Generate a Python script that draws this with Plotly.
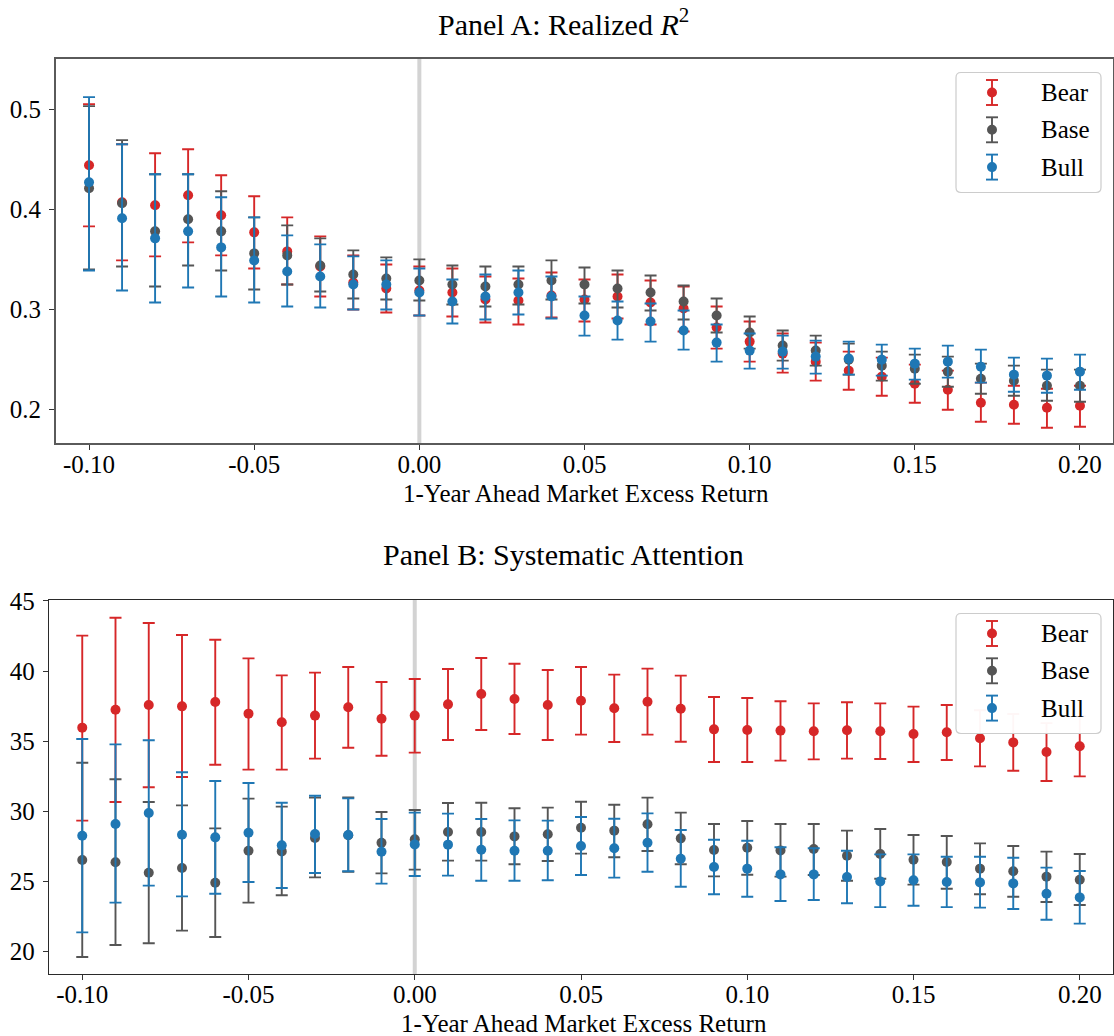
import plotly.graph_objects as go

# ---------------------------------------------------------------------------
# Data: 1-year ahead market excess return scenarios (x) and point estimates
# with lower / upper confidence bounds for the Bear, Base and Bull scenarios.
# ---------------------------------------------------------------------------
x_ret = [-0.10, -0.09, -0.08, -0.07, -0.06, -0.05, -0.04, -0.03, -0.02, -0.01,
         0.00, 0.01, 0.02, 0.03, 0.04, 0.05, 0.06, 0.07, 0.08, 0.09,
         0.10, 0.11, 0.12, 0.13, 0.14, 0.15, 0.16, 0.17, 0.18, 0.19, 0.20]

x_tickvals = [-0.10, -0.05, 0.00, 0.05, 0.10, 0.15, 0.20]
x_ticktext = ["-0.10", "-0.05", "0.00", "0.05", "0.10", "0.15", "0.20"]

# Panel A: realized R^2
r2_bear = [0.444, 0.407, 0.404, 0.414, 0.394, 0.377, 0.358, 0.343, 0.327, 0.321,
           0.319, 0.317, 0.310, 0.309, 0.314, 0.310, 0.313, 0.307, 0.301, 0.282,
           0.268, 0.256, 0.248, 0.239, 0.233, 0.226, 0.220, 0.207, 0.205, 0.202, 0.204]
r2_bear_lo = [0.383, 0.349, 0.353, 0.367, 0.354, 0.341, 0.325, 0.313, 0.300, 0.297,
              0.294, 0.293, 0.287, 0.285, 0.292, 0.288, 0.291, 0.285, 0.278, 0.261,
              0.248, 0.237, 0.229, 0.220, 0.214, 0.207, 0.200, 0.188, 0.186, 0.182, 0.183]
r2_bear_hi = [0.505, 0.465, 0.456, 0.460, 0.434, 0.413, 0.392, 0.373, 0.354, 0.345,
              0.343, 0.341, 0.333, 0.331, 0.337, 0.330, 0.335, 0.329, 0.323, 0.303,
              0.288, 0.276, 0.267, 0.258, 0.252, 0.245, 0.239, 0.227, 0.224, 0.221, 0.224]

r2_base = [0.421, 0.406, 0.378, 0.390, 0.378, 0.356, 0.354, 0.344, 0.335, 0.331,
           0.329, 0.325, 0.323, 0.325, 0.329, 0.325, 0.321, 0.317, 0.308, 0.294,
           0.277, 0.264, 0.259, 0.250, 0.244, 0.241, 0.238, 0.231, 0.229, 0.224, 0.224]
r2_base_lo = [0.340, 0.343, 0.323, 0.344, 0.339, 0.320, 0.325, 0.318, 0.311, 0.310,
              0.309, 0.305, 0.303, 0.305, 0.310, 0.306, 0.302, 0.299, 0.290, 0.277,
              0.261, 0.249, 0.244, 0.235, 0.229, 0.226, 0.223, 0.216, 0.214, 0.209, 0.208]
r2_base_hi = [0.503, 0.469, 0.435, 0.435, 0.418, 0.392, 0.384, 0.371, 0.359, 0.352,
              0.350, 0.344, 0.343, 0.343, 0.349, 0.342, 0.339, 0.334, 0.324, 0.311,
              0.293, 0.279, 0.274, 0.266, 0.258, 0.255, 0.253, 0.246, 0.244, 0.240, 0.240]

r2_bull = [0.427, 0.391, 0.371, 0.378, 0.362, 0.349, 0.338, 0.333, 0.325, 0.325,
           0.317, 0.308, 0.313, 0.317, 0.313, 0.294, 0.289, 0.288, 0.279, 0.267,
           0.259, 0.258, 0.253, 0.251, 0.250, 0.246, 0.248, 0.243, 0.235, 0.234, 0.238]
r2_bull_lo = [0.339, 0.319, 0.307, 0.322, 0.313, 0.307, 0.303, 0.302, 0.300, 0.300,
              0.294, 0.286, 0.290, 0.295, 0.291, 0.274, 0.270, 0.268, 0.260, 0.248,
              0.241, 0.241, 0.236, 0.235, 0.234, 0.230, 0.232, 0.227, 0.218, 0.217, 0.220]
r2_bull_hi = [0.512, 0.465, 0.435, 0.435, 0.412, 0.392, 0.374, 0.365, 0.353, 0.349,
              0.341, 0.330, 0.335, 0.339, 0.333, 0.313, 0.308, 0.306, 0.299, 0.285,
              0.276, 0.274, 0.269, 0.268, 0.265, 0.261, 0.264, 0.260, 0.252, 0.251, 0.255]

# Panel B: systematic attention
att_bear = [35.97, 37.25, 37.59, 37.49, 37.80, 36.97, 36.35, 36.83, 37.42, 36.61,
            36.83, 37.63, 38.37, 38.01, 37.59, 37.89, 37.35, 37.82, 37.32, 35.85,
            35.80, 35.76, 35.71, 35.78, 35.71, 35.52, 35.64, 35.21, 34.92, 34.23, 34.64]
att_bear_lo = [29.34, 30.67, 31.72, 32.45, 33.33, 32.98, 32.98, 33.76, 34.54, 33.97,
               34.19, 35.09, 35.80, 35.52, 35.09, 35.47, 34.95, 35.47, 34.97, 33.52,
               33.52, 33.62, 33.71, 33.76, 33.74, 33.52, 33.66, 33.21, 32.90, 32.17, 32.50]
att_bear_hi = [42.53, 43.81, 43.43, 42.58, 42.24, 40.91, 39.70, 39.89, 40.29, 39.23,
               39.44, 40.15, 40.94, 40.53, 40.08, 40.29, 39.75, 40.18, 39.68, 38.16,
               38.08, 37.85, 37.70, 37.78, 37.70, 37.47, 37.59, 37.21, 36.94, 36.29, 36.78]

att_base = [26.54, 26.37, 25.63, 25.96, 24.92, 27.20, 27.15, 28.10, 28.30, 27.77,
            28.01, 28.53, 28.53, 28.22, 28.37, 28.84, 28.63, 29.08, 28.08, 27.25,
            27.41, 27.22, 27.32, 26.84, 26.96, 26.56, 26.39, 25.92, 25.73, 25.35, 25.13]
att_base_lo = [19.62, 20.48, 20.60, 21.50, 21.05, 23.50, 24.02, 25.30, 25.70, 25.58,
               25.85, 26.49, 26.49, 26.23, 26.46, 26.99, 26.73, 27.18, 26.23, 25.37,
               25.49, 25.35, 25.47, 25.06, 25.20, 24.78, 24.49, 24.09, 23.92, 23.54, 23.33]
att_base_hi = [33.47, 32.29, 30.67, 30.43, 28.79, 30.91, 30.34, 30.98, 31.00, 29.96,
               30.10, 30.60, 30.62, 30.22, 30.27, 30.69, 30.48, 30.98, 29.91, 29.10,
               29.32, 29.10, 29.10, 28.63, 28.75, 28.32, 28.25, 27.72, 27.53, 27.13, 26.96]

att_bull = [28.27, 29.10, 29.89, 28.34, 28.15, 28.48, 27.58, 28.39, 28.32, 27.13,
            27.65, 27.63, 27.27, 27.20, 27.20, 27.53, 27.37, 27.77, 26.63, 26.04,
            25.92, 25.51, 25.51, 25.32, 25.01, 25.09, 24.97, 24.94, 24.87, 24.13, 23.87]
att_bull_lo = [21.38, 23.50, 24.71, 23.94, 24.13, 24.97, 24.54, 25.61, 25.73, 24.85,
               25.40, 25.42, 25.06, 25.06, 25.09, 25.47, 25.28, 25.70, 24.63, 24.09,
               23.92, 23.61, 23.68, 23.45, 23.18, 23.28, 23.18, 23.14, 23.04, 22.28, 22.00]
att_bull_hi = [35.16, 34.78, 35.07, 32.79, 32.17, 32.02, 30.62, 31.12, 30.93, 29.46,
               29.91, 29.84, 29.46, 29.36, 29.34, 29.60, 29.48, 29.86, 28.67, 27.98,
               27.91, 27.44, 27.37, 27.20, 26.94, 26.94, 26.77, 26.77, 26.70, 25.99, 25.75]

scenario_names = ["Bear", "Base", "Bull"]
scenario_colors = ["#d62728", "#555555", "#1f77b4"]

# ---------------------------------------------------------------------------
W, H = 1114, 1036
FONT = "Liberation Serif"


def px_x(p):
    return p / W


def px_y(p):
    return 1 - p / H


fig = go.Figure()

panels = [
    ("x", "y", [(r2_bear, r2_bear_lo, r2_bear_hi),
                (r2_base, r2_base_lo, r2_base_hi),
                (r2_bull, r2_bull_lo, r2_bull_hi)]),
    ("x2", "y2", [(att_bear, att_bear_lo, att_bear_hi),
                  (att_base, att_base_lo, att_base_hi),
                  (att_bull, att_bull_lo, att_bull_hi)]),
]

for xa, ya, series in panels:
    for name, color, (mid, lo, hi) in zip(scenario_names, scenario_colors, series):
        fig.add_trace(go.Scatter(
            x=x_ret, y=mid, name=name, mode="markers",
            xaxis=xa, yaxis=ya, showlegend=False,
            marker=dict(color=color, size=10, line=dict(width=0)),
            error_y=dict(type="data", symmetric=False,
                         array=[h - m for h, m in zip(hi, mid)],
                         arrayminus=[m - l for m, l in zip(mid, lo)],
                         color=color, thickness=1.9, width=6),
        ))

tick_font = dict(family=FONT, size=25, color="black")

common_x = dict(range=[-0.11, 0.21], tickvals=x_tickvals, ticktext=x_ticktext,
                showgrid=False, zeroline=False, showline=True, mirror=True,
                automargin=False, ticks="outside", ticklen=5, tickfont=tick_font,
                ticklabelstandoff=-7)
common_y = dict(showgrid=False, zeroline=False, showline=True, mirror=True,
                automargin=False, ticks="outside", ticklen=5, tickfont=tick_font,
                ticklabelstandoff=3)

fig.update_layout(
    template="none",
    width=W, height=H,
    margin=dict(l=0, r=0, t=0, b=0, pad=0),
    paper_bgcolor="white", plot_bgcolor="white",
    showlegend=False,
    font=dict(family=FONT, color="black"),
    xaxis=dict(domain=[px_x(56), px_x(1113)], anchor="y",
               linecolor="#5a5a5a", linewidth=2, tickcolor="#333333",
               **common_x),
    yaxis=dict(domain=[px_y(443), px_y(59)], anchor="x", range=[0.1668, 0.55],
               tickvals=[0.2, 0.3, 0.4, 0.5], ticktext=["0.2", "0.3", "0.4", "0.5"],
               linecolor="#5a5a5a", linewidth=2, tickcolor="#333333",
               **common_y),
    xaxis2=dict(domain=[px_x(49), px_x(1113)], anchor="y2",
                linecolor="#2a2a2a", linewidth=1.3, tickcolor="#333333",
                **common_x),
    yaxis2=dict(domain=[px_y(974), px_y(600)], anchor="x2", range=[18.41, 45.07],
                tickvals=[20, 25, 30, 35, 40, 45],
                ticktext=["20", "25", "30", "35", "40", "45"],
                linecolor="#2a2a2a", linewidth=1.3, tickcolor="#333333",
                **common_y),
)

shapes = []
annotations = []

# vertical reference line at zero return
for xr, yr in [("x", "y domain"), ("x2", "y2 domain")]:
    shapes.append(dict(type="line", xref=xr, yref=yr, x0=0, x1=0, y0=0, y1=1,
                       line=dict(color="#d3d3d3", width=4), layer="below"))

# panel titles and axis labels
annotations.append(dict(text="Panel A: Realized <i>R</i><sup>2</sup>",
                        xref="paper", yref="paper", x=px_x(563), y=px_y(22),
                        xanchor="center", yanchor="middle", showarrow=False,
                        font=dict(family=FONT, size=30, color="black")))
annotations.append(dict(text="Panel B: Systematic Attention",
                        xref="paper", yref="paper", x=px_x(563), y=px_y(554),
                        xanchor="center", yanchor="middle", showarrow=False,
                        font=dict(family=FONT, size=30, color="black")))
for cx, cy in [(586, 493), (584, 1023)]:
    annotations.append(dict(text="1-Year Ahead Market Excess Return",
                            xref="paper", yref="paper", x=px_x(cx), y=px_y(cy),
                            xanchor="center", yanchor="middle", showarrow=False,
                            font=dict(family=FONT, size=25, color="black")))


def rounded_box(x0, y0, x1, y1, r):
    """SVG path (paper coords) of a rounded rectangle given in pixels."""
    pts = [
        f"M {px_x(x0 + r)},{px_y(y0)}",
        f"L {px_x(x1 - r)},{px_y(y0)}",
        f"Q {px_x(x1)},{px_y(y0)} {px_x(x1)},{px_y(y0 + r)}",
        f"L {px_x(x1)},{px_y(y1 - r)}",
        f"Q {px_x(x1)},{px_y(y1)} {px_x(x1 - r)},{px_y(y1)}",
        f"L {px_x(x0 + r)},{px_y(y1)}",
        f"Q {px_x(x0)},{px_y(y1)} {px_x(x0)},{px_y(y1 - r)}",
        f"L {px_x(x0)},{px_y(y0 + r)}",
        f"Q {px_x(x0)},{px_y(y0)} {px_x(x0 + r)},{px_y(y0)}",
        "Z",
    ]
    return " ".join(pts)


# legend boxes (one per panel) with error-bar glyphs
for top in [59, 600]:
    shapes.append(dict(type="path", xref="paper", yref="paper",
                       path=rounded_box(956, top + 13.5, 1101, top + 133.5, 5),
                       fillcolor="rgba(255,255,255,0.96)",
                       line=dict(color="#cccccc", width=1.2), layer="above"))
    for i, (name, color) in enumerate(zip(scenario_names, scenario_colors)):
        cy = top + 33.5 + 37.3 * i
        mx = 992
        shapes.append(dict(type="line", xref="paper", yref="paper",
                           x0=px_x(mx), x1=px_x(mx), y0=px_y(cy - 12.5), y1=px_y(cy + 12.5),
                           line=dict(color=color, width=1.9), layer="above"))
        for dy in (-12.5, 12.5):
            shapes.append(dict(type="line", xref="paper", yref="paper",
                               x0=px_x(mx - 6), x1=px_x(mx + 6),
                               y0=px_y(cy + dy), y1=px_y(cy + dy),
                               line=dict(color=color, width=1.9), layer="above"))
        shapes.append(dict(type="circle", xref="paper", yref="paper",
                           xsizemode="pixel", ysizemode="pixel",
                           xanchor=px_x(mx), yanchor=px_y(cy),
                           x0=-5, x1=5, y0=-5, y1=5,
                           fillcolor=color, line=dict(width=0), layer="above"))
        annotations.append(dict(text=name, xref="paper", yref="paper",
                                x=px_x(1039), y=px_y(cy), xanchor="left",
                                yanchor="middle", showarrow=False,
                                font=dict(family=FONT, size=25, color="black")))

fig.update_layout(shapes=shapes, annotations=annotations)

fig.write_html("out.html")
